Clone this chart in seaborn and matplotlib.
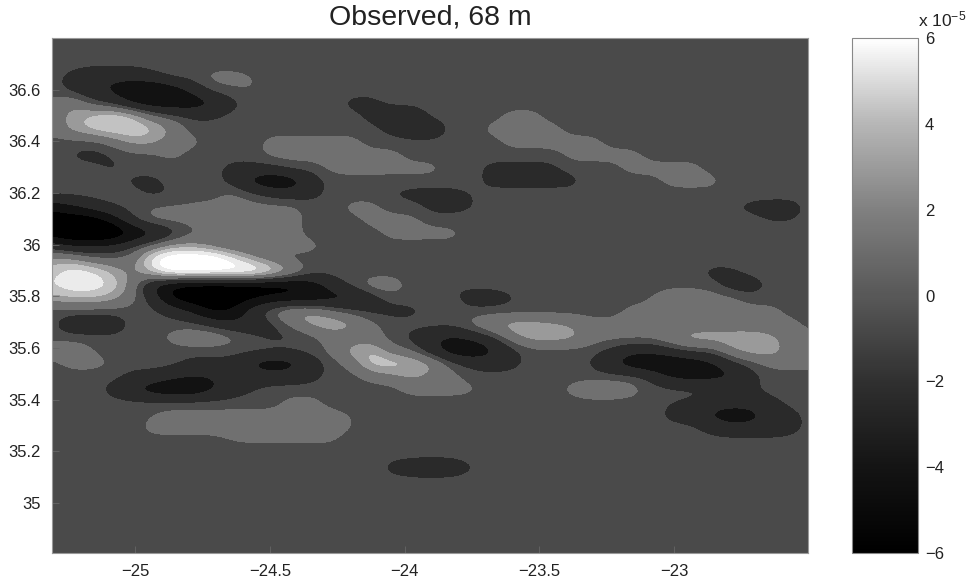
import numpy as np
import matplotlib
matplotlib.use("Agg")
import matplotlib.pyplot as plt
import seaborn as sns
from matplotlib.cm import ScalarMappable
from matplotlib.colors import BoundaryNorm, ListedColormap, Normalize

sns.set_theme(style="ticks")
plt.rcParams["font.family"] = ["Liberation Sans", "DejaVu Sans"]
plt.rcParams["mathtext.default"] = "regular"

# grid the field was read on, values in units of 1e-5
lon_nodes = np.linspace(-25.308, -22.488, 39)
lat_nodes = np.linspace(36.80, 34.784, 41)

# (row, first column, values) - everything else stays at background 0
anomaly_runs = [
    (3, 1, [-1, -2, -2, -2, -1]), (3, 8, [1, 1, 0.6]),
    (4, 1, [-1, -2, -3, -4, -5, -4, -2, 0, 0.4, 0.6]),
    (5, 0, [1, 2, 0, -1, -3, -4, -4, -4, -3, -1]), (5, 15, [-1, -1]),
    (6, 0, [1, 2.5, 3.5, 4.5, 3.5, 1, 0, -0.7, -0.7]), (6, 16, [-1, -2, -2]), (6, 23, [1, 1]),
    (7, 0, [1, 2.5, 3.5, 4, 4, 3.5, 2]), (7, 17, [-1, -2, -2]), (7, 22, [1, 1, 1, 1]),
    (8, 3, [1, 2.5, 2.5, 1, 1]), (8, 11, [1, 1, 1, 1, 1]), (8, 23, [1, 1, 1, 1, 1]),
    (9, 1, [-0.6, -1.2, -0.6]), (9, 6, [1]), (9, 11, [1, 1, 1, 1, 1, 1, 1]), (9, 26, [1, 1, 1, 1]),
    (10, 3, [-0.8]), (10, 9, [-1, -1, -1]), (10, 14, [1, 1, 1, 1, 1, 1]), (10, 22, [-1, -1, -1, -1]), (10, 29, [1, 1, 1, 1]),
    (11, 4, [-0.8, -1]), (11, 9, [-1, -3.5, -4.4, -4, -1.5]), (11, 22, [-1, -1, -1, -1, -1]), (11, 31, [1, 1, 1]),
    (12, 5, [-0.8, -0.6]), (12, 9, [1, 0, -1, -1.5, -1]), (12, 17, [-0.6, -1, -1, -1, -0.5]),
    (13, 0, [-4, -3, -1.5, -0.5]), (13, 5, [0.6, 0.8, 0.8, 1, 1, 1, 1, 1]), (13, 15, [1, 1]), (13, 19, [-1, -1, -0.6]),
    (13, 34, [-0.4, -1, -1.2, -1.2]),
    (14, 0, [-6, -6, -6, -4, -0.6, 1, 1, 1, 1, 1, 1, 1, 1]), (14, 16, [1, 1, 1]), (14, 36, [-0.6, -0.5]),
    (15, 0, [-6, -7, -7, -7, -5, -3.5, -1.5, 0.3, 0.4, 0.4, 1, 1, 1]), (15, 17, [1, 1, 1, 1]),
    (16, 0, [-1, -2.5, -2.5, -2, -0.5, 1, 2.5, 2.5, 1.5, 0.3, 0.3, 0.3]), (16, 12, [1, 1]),
    (17, 0, [2.5, 2.5, 1, 0.8, 1, 5, 7, 7, 7, 5, 2.5, 1]),
    (18, 0, [3.5, 5, 4.5, 3, 1.5, 3.5, 6, 6, 6, 6, 6.5, 5, 2.5]), (18, 33, [-1, -0.8]),
    (19, 0, [4, 5, 5, 4, 1.5, -3, -5, -6, -6, -6, -6, -6, -5.5, -4, -1.5]), (19, 16, [1.5, 1.5]), (19, 20, [-0.6]), (19, 34, [-1.5, -1.5]),
    (20, 0, [2.5, 3, 3, 2.5, 1, -1, -5, -6, -6, -6, -5, -4, -4, -4, -3.5, -3.5, -1.5]),
    (20, 21, [-1.5, -1.5, -0.7]), (20, 30, [0.5, 1.8, 1.8, 1.2, 1]),
    (21, 6, [-1, -2.5, -5, -4.5, -1, 1, 2.5, 2.5, 1, 0, -1, -1, -1]), (21, 29, [1, 1, 1, 1, 1, 1, 1, 1]),
    (22, 1, [-2, -2, -2]), (22, 8, [-1, -2, -2, -1, 1, 2.5, 3.2, 2.5, 1]),
    (22, 21, [1, 2.3, 2.9, 2.8, 2.4, 2, 1, 1, 1, 1, 1, 1, 1, 1, 1, 1, 1]),
    (23, 6, [1, 1.8, 1.8, 1, 0, -0.8, -0.8, 0, 1, 1, 1]), (23, 18, [-1, -2, -3, -2, -0.8]),
    (23, 23, [1.5, 2.9, 2.9, 2.6, 1.2, 1, 1, 1, 2, 2.9, 2.9, 2.9, 2.9, 2.4, 1, 1]),
    (24, 0, [1.5, 1.8, 0.5]), (24, 14, [1, 2.8, 3.4, 1, 0.5]), (24, 19, [-2, -4, -4.4, -3, -1]),
    (24, 28, [-1, -2, -2, -1]), (24, 34, [2, 2.9, 2.9, 1.2, 1]),
    (25, 1, [1, 1, 0.5]), (25, 7, [-1, -1, -1, -3, -4, -3.5, -1.5, 0, 1, 3.9, 4, 3.4, 2.5]),
    (25, 21, [-1, -1.5, -1]), (25, 27, [-0.6, -2.5, -4, -4.4, -4.4, -4, -3, -1]), (25, 36, [1, 1, 1]),
    (26, 4, [-1, -1, -2, -2.5, -2.5, -1.5, -1.5, -1.5, -1.5, -1]), (26, 16, [1, 1.5, 2.4, 1.5, 1]),
    (26, 30, [-1, -3, -3.5, -3.5, -3, -1]),
    (27, 3, [-1, -2.5, -4, -4.4, -4.4, -3, -1.5, -0.5]), (27, 18, [1, 1, 1, 0.8]), (27, 26, [1, 1.8, 1.8, 1.2]), (27, 34, [-0.3, -0.7]),
    (28, 12, [1, 1]), (28, 31, [-0.5, -0.8, -1.5, -1.5, -1.5, -1]),
    (29, 5, [0.5, 1, 1, 1, 1, 1, 1, 1, 1, 1, 0.5]), (29, 31, [-1, -1.5, -3, -4, -3.5, -1.5, -1]),
    (30, 5, [1, 1, 1, 1, 1, 1, 1, 1, 1, 1, 0.5]), (30, 33, [-1, -1.5, -1.5, -1.5, -1]),
    (31, 9, [0.5, 0.6, 0.6, 0.6, 0.6, 0.6]),
    (33, 17, [-1, -1.6, -1.8, -1.6, -0.6]),
]

band_levels = [-7.5, -4.5, -2.5, -0.5, 0.5, 2, 3, 4, 5, 7.5]
band_colors = ["#000000", "#121212", "#2a2a2a", "#4a4a4a", "#707070", "#9a9a9a", "#c2c2c2", "#ebebeb", "#ffffff"]

x_ticks = [-25, -24.5, -24, -23.5, -23]
y_ticks = [35, 35.2, 35.4, 35.6, 35.8, 36, 36.2, 36.4, 36.6]
y_labels = ["35", "35.2", "35.4", "35.6", "35.8", "36", "36.2", "36.4", "36.6"]
cbar_ticks = [-6, -4, -2, 0, 2, 4, 6]
cbar_grays = ["#000000", "#141414", "#303030", "#585858", "#808080", "#b6b6b6", "#ffffff"]

field = np.zeros((len(lat_nodes), len(lon_nodes)))
for row, col, values in anomaly_runs:
    field[row, col:col + len(values)] = values

W, H = 973, 581
fig = plt.figure(figsize=(W / 100, H / 100), dpi=100)
ax = fig.add_axes([52 / W, 1 - 553 / H, 756 / W, 515 / H])
cax = fig.add_axes([852 / W, 1 - 553 / H, 66 / W, 515 / H])

# bands come from the renderer resampling the read grid, not from extra data
dx = (lon_nodes[1] - lon_nodes[0]) / 2
dy = (lat_nodes[0] - lat_nodes[1]) / 2
ax.imshow(field, extent=[lon_nodes[0] - dx, lon_nodes[-1] + dx, lat_nodes[-1] - dy, lat_nodes[0] + dy],
          origin="upper", aspect="auto", interpolation="bicubic", interpolation_stage="data",
          cmap=ListedColormap(band_colors), norm=BoundaryNorm(band_levels, len(band_colors)))
ax.set_xlim(-25.308, -22.503)
ax.set_ylim(34.806, 36.80)
ax.set_xticks(x_ticks)
ax.set_xticklabels(["\u2212" + str(abs(v)) for v in x_ticks])
ax.set_yticks(y_ticks)
ax.set_yticklabels(y_labels)
ax.tick_params(direction="in", length=5, width=0.6, color="#666666", labelsize=12, labelcolor="#222222", pad=8)
fig.text(430 / W, 1 - 24 / H, "Observed, 68 m", fontsize=20.5, color="#222222", ha="center", va="baseline")
sns.despine(ax=ax, top=False, right=False)
for spine in ax.spines.values():
    spine.set_color("#999999")
    spine.set_linewidth(0.8)

cmap = sns.blend_palette(cbar_grays, n_colors=64, as_cmap=True)
cbar = fig.colorbar(ScalarMappable(Normalize(-6, 6), cmap), cax=cax)
cbar.set_ticks(cbar_ticks)
cbar.ax.tick_params(direction="in", length=5, width=0.6, color="#666666", left=True, right=True,
                    labelsize=12, labelcolor="#222222", pad=5)
cbar.outline.set_edgecolor("#888888")
cbar.outline.set_linewidth(0.8)
fig.text(918 / W, 1 - 26 / H, "x 10$^{-5}$", fontsize=12.5, color="#222222", ha="left", va="baseline")

fig.savefig("out.png", dpi=100)
